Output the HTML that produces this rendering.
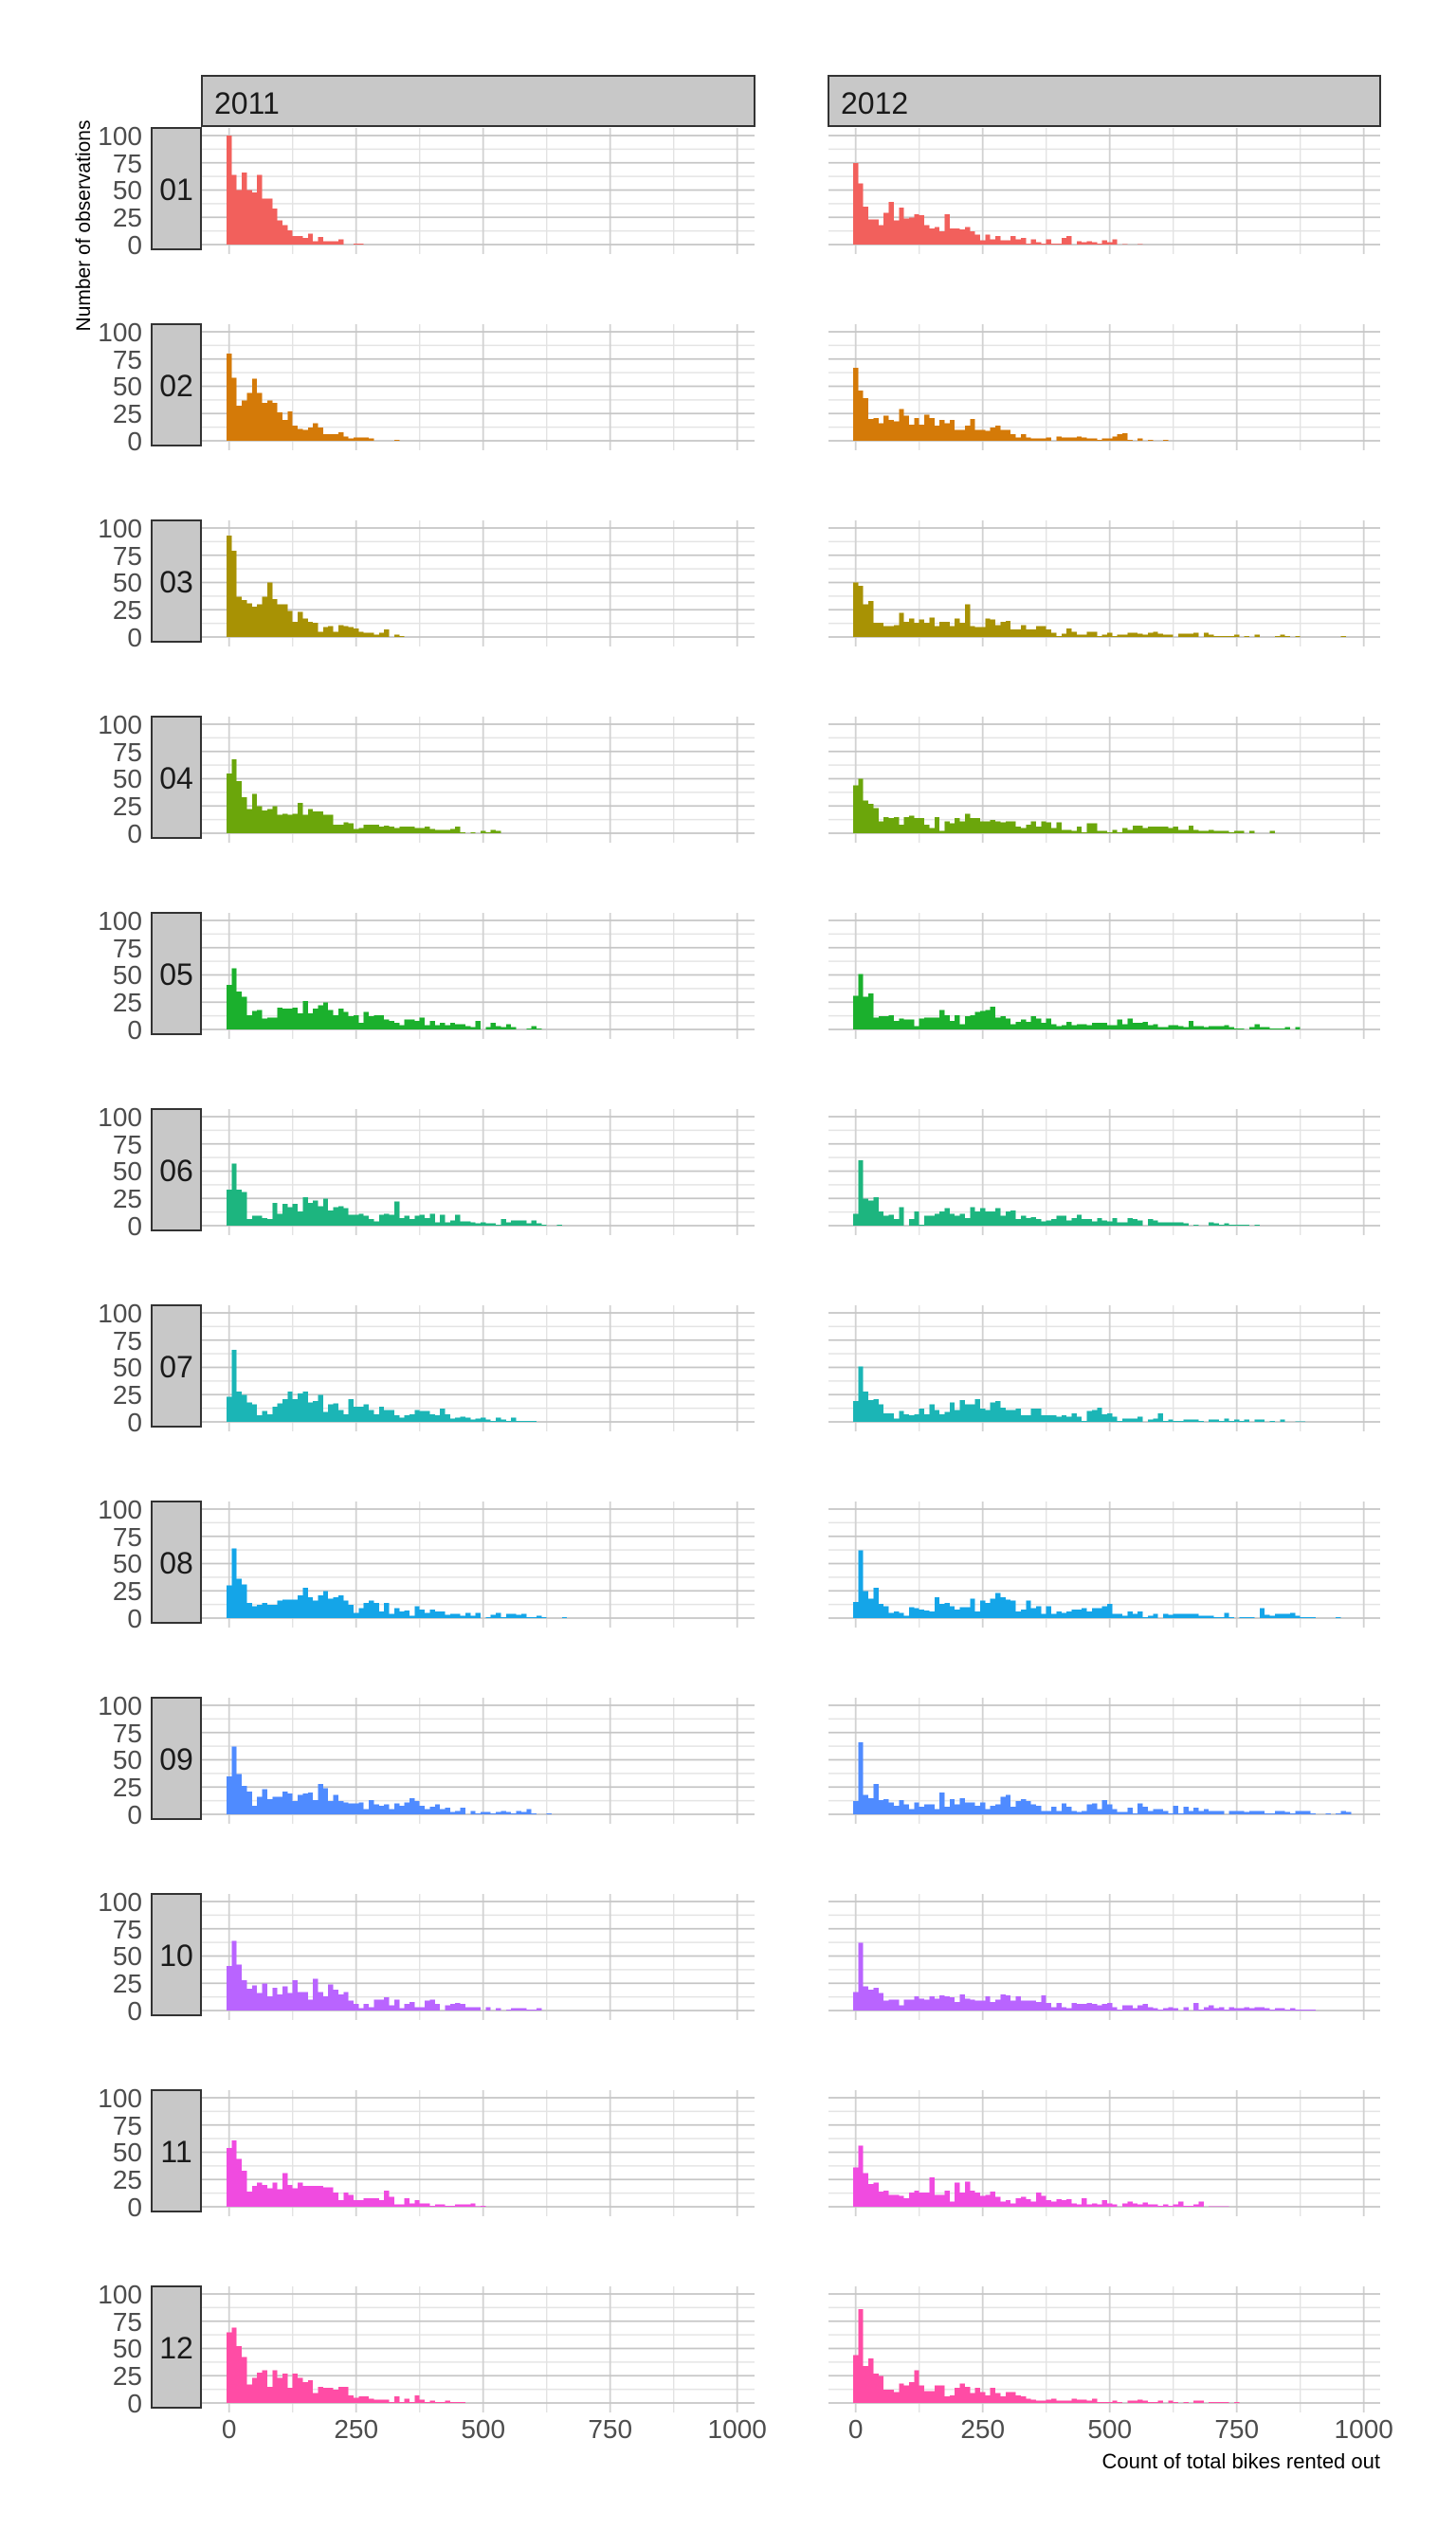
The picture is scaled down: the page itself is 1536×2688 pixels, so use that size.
<!DOCTYPE html>
<html><head><meta charset="utf-8"><style>
html,body{margin:0;padding:0;background:#fff;}
svg{display:block;}
text{font-family:"Liberation Sans",Arial,sans-serif;}
</style></head><body>
<svg id="s" width="1536" height="2688" viewBox="0 0 1536 2688" xmlns="http://www.w3.org/2000/svg">
<rect width="1536" height="2688" fill="#fff"/>
<g id="grid"></g>
<g id="bars"></g>
<g id="strips">
<rect x="213" y="80" width="583" height="53" fill="#c8c8c8" stroke="#333" stroke-width="2"/>
<text x="226" y="120" font-size="32" fill="#1a1a1a">2011</text>
<rect x="874" y="80" width="582" height="53" fill="#c8c8c8" stroke="#333" stroke-width="2"/>
<text x="887" y="120" font-size="32" fill="#1a1a1a">2012</text>
</g>
<g id="rows" font-size="28" fill="#4d4d4d">
<g transform="translate(0,0)"><rect x="160" y="135" width="52" height="128" fill="#c8c8c8" stroke="#333" stroke-width="2"/><text x="186" y="211" font-size="32" fill="#1a1a1a" text-anchor="middle">01</text><g text-anchor="end"><text x="150" y="153">100</text><text x="150" y="182">75</text><text x="150" y="210">50</text><text x="150" y="239">25</text><text x="150" y="268">0</text></g></g>
<g transform="translate(0,207)"><rect x="160" y="135" width="52" height="128" fill="#c8c8c8" stroke="#333" stroke-width="2"/><text x="186" y="211" font-size="32" fill="#1a1a1a" text-anchor="middle">02</text><g text-anchor="end"><text x="150" y="153">100</text><text x="150" y="182">75</text><text x="150" y="210">50</text><text x="150" y="239">25</text><text x="150" y="268">0</text></g></g>
<g transform="translate(0,414)"><rect x="160" y="135" width="52" height="128" fill="#c8c8c8" stroke="#333" stroke-width="2"/><text x="186" y="211" font-size="32" fill="#1a1a1a" text-anchor="middle">03</text><g text-anchor="end"><text x="150" y="153">100</text><text x="150" y="182">75</text><text x="150" y="210">50</text><text x="150" y="239">25</text><text x="150" y="268">0</text></g></g>
<g transform="translate(0,621)"><rect x="160" y="135" width="52" height="128" fill="#c8c8c8" stroke="#333" stroke-width="2"/><text x="186" y="211" font-size="32" fill="#1a1a1a" text-anchor="middle">04</text><g text-anchor="end"><text x="150" y="153">100</text><text x="150" y="182">75</text><text x="150" y="210">50</text><text x="150" y="239">25</text><text x="150" y="268">0</text></g></g>
<g transform="translate(0,828)"><rect x="160" y="135" width="52" height="128" fill="#c8c8c8" stroke="#333" stroke-width="2"/><text x="186" y="211" font-size="32" fill="#1a1a1a" text-anchor="middle">05</text><g text-anchor="end"><text x="150" y="153">100</text><text x="150" y="182">75</text><text x="150" y="210">50</text><text x="150" y="239">25</text><text x="150" y="268">0</text></g></g>
<g transform="translate(0,1035)"><rect x="160" y="135" width="52" height="128" fill="#c8c8c8" stroke="#333" stroke-width="2"/><text x="186" y="211" font-size="32" fill="#1a1a1a" text-anchor="middle">06</text><g text-anchor="end"><text x="150" y="153">100</text><text x="150" y="182">75</text><text x="150" y="210">50</text><text x="150" y="239">25</text><text x="150" y="268">0</text></g></g>
<g transform="translate(0,1242)"><rect x="160" y="135" width="52" height="128" fill="#c8c8c8" stroke="#333" stroke-width="2"/><text x="186" y="211" font-size="32" fill="#1a1a1a" text-anchor="middle">07</text><g text-anchor="end"><text x="150" y="153">100</text><text x="150" y="182">75</text><text x="150" y="210">50</text><text x="150" y="239">25</text><text x="150" y="268">0</text></g></g>
<g transform="translate(0,1449)"><rect x="160" y="135" width="52" height="128" fill="#c8c8c8" stroke="#333" stroke-width="2"/><text x="186" y="211" font-size="32" fill="#1a1a1a" text-anchor="middle">08</text><g text-anchor="end"><text x="150" y="153">100</text><text x="150" y="182">75</text><text x="150" y="210">50</text><text x="150" y="239">25</text><text x="150" y="268">0</text></g></g>
<g transform="translate(0,1656)"><rect x="160" y="135" width="52" height="128" fill="#c8c8c8" stroke="#333" stroke-width="2"/><text x="186" y="211" font-size="32" fill="#1a1a1a" text-anchor="middle">09</text><g text-anchor="end"><text x="150" y="153">100</text><text x="150" y="182">75</text><text x="150" y="210">50</text><text x="150" y="239">25</text><text x="150" y="268">0</text></g></g>
<g transform="translate(0,1863)"><rect x="160" y="135" width="52" height="128" fill="#c8c8c8" stroke="#333" stroke-width="2"/><text x="186" y="211" font-size="32" fill="#1a1a1a" text-anchor="middle">10</text><g text-anchor="end"><text x="150" y="153">100</text><text x="150" y="182">75</text><text x="150" y="210">50</text><text x="150" y="239">25</text><text x="150" y="268">0</text></g></g>
<g transform="translate(0,2070)"><rect x="160" y="135" width="52" height="128" fill="#c8c8c8" stroke="#333" stroke-width="2"/><text x="186" y="211" font-size="32" fill="#1a1a1a" text-anchor="middle">11</text><g text-anchor="end"><text x="150" y="153">100</text><text x="150" y="182">75</text><text x="150" y="210">50</text><text x="150" y="239">25</text><text x="150" y="268">0</text></g></g>
<g transform="translate(0,2277)"><rect x="160" y="135" width="52" height="128" fill="#c8c8c8" stroke="#333" stroke-width="2"/><text x="186" y="211" font-size="32" fill="#1a1a1a" text-anchor="middle">12</text><g text-anchor="end"><text x="150" y="153">100</text><text x="150" y="182">75</text><text x="150" y="210">50</text><text x="150" y="239">25</text><text x="150" y="268">0</text></g></g>
</g>
<g font-size="28" fill="#4d4d4d" text-anchor="middle">
<text x="241.7" y="2572">0</text><text x="375.7" y="2572">250</text><text x="509.7" y="2572">500</text><text x="643.7" y="2572">750</text><text x="777.7" y="2572">1000</text>
<text x="902.7" y="2572">0</text><text x="1036.7" y="2572">250</text><text x="1170.7" y="2572">500</text><text x="1304.7" y="2572">750</text><text x="1438.7" y="2572">1000</text>
</g>
<text x="1456" y="2604" font-size="22" fill="#000" text-anchor="end">Count of total bikes rented out</text>
<text transform="translate(95,238) rotate(-90)" font-size="21" fill="#000" text-anchor="middle">Number of observations</text>
</svg>
<script>
(function(){
var NS="http://www.w3.org/2000/svg";
var grid=document.getElementById("grid"),bars=document.getElementById("bars");
function el(p,t,a){var e=document.createElementNS(NS,t);for(var k in a)e.setAttribute(k,a[k]);p.appendChild(e);return e;}
var cols=["#f2605c","#d47a08","#a89204","#6ba60b","#1bb02d","#1db57f","#1bb5b6","#14a5e8","#4f8bff","#b964ff","#f04be0","#ff4ca5"];
var A=[
[100,64,50,66,50,48,64,42,42,33,22,18,13,8,8,6,10,3,7,3,3,3,5,0,0,0.7,0.7],
[80,58,32,37,44,57,44,35,37,35,26,19,27,14,11,10,12,16,12,6,6,6,8,4,2,3,3,3,2,0,0,0,0,1],
[93,79,37,34,31,28,30,37,50,35,30,30,24,14,23,17,14,13,5,9,10,5,11,10,9,8,5,4,4,2,4,7,0,2,1],
[55,68,48,33,22,36,25,21,22,25,17,18,17,18,28,17,22,20,20,17,17,8,8,10,9,4,5,8,8,8,6,7,6,5,6,6,6,5,5,6,4,3,3,3,4,6,1,0,1,0,2,1,3,2],
[41,56,35,30,13,17,18,10,11,11,20,19,19,20,15,26,15,19,22,25,18,13,19,16,12,13,6,16,12,13,13,9,8,6,4,9,9,8,11,4,8,4,6,4,6,5,5,3,2,8,0,2,6,3,2,5,2,0,0,1,3,1],
[33,57,33,31,6,9,9,7,6,21,11,20,17,20,13,26,21,23,18,25,14,17,18,16,10,10,11,9,6,4,10,11,10,22,7,9,6,9,10,7,11,3,10,3,5,10,4,4,3,2,3,2,2,1,6,3,5,5,5,2,5,2,1,0,0,1],
[23,66,28,25,18,16,6,10,7,14,17,21,28,21,26,28,18,19,25,9,16,17,11,7,21,14,14,16,11,7,14,11,11,6,4,6,7,11,10,10,7,6,12,7,3,4,5,4,2,3,4,2,1,4,2,1,4,1,1,1,1],
[30,64,36,31,14,11,12,14,12,12,16,17,17,17,21,28,19,16,21,25,18,19,21,16,12,5,9,14,16,14,6,14,4,9,6,7,2,11,8,5,8,6,6,3,4,4,2,5,2,5,0,1,3,5,1,4,4,3,4,1,1,2,1,0,0,0,1],
[35,62,37,26,21,8,16,23,14,16,16,21,19,12,18,19,20,13,28,24,12,18,12,11,10,10,11,5,13,9,8,9,5,10,8,11,15,12,8,5,7,9,5,6,2,3,6,0,3,1,2,2,1,2,3,2,1,3,2,5,1,0,0,1],
[41,64,42,28,20,23,16,25,13,21,15,22,16,28,17,17,10,29,17,13,24,19,15,17,9,6,2,6,3,10,10,12,5,10,2,6,8,3,3,9,10,6,0,5,6,7,6,3,3,3,0,3,0,2,0,1,2,2,2,1,1,2],
[54,61,44,33,14,19,22,20,17,22,16,31,20,17,22,19,19,19,19,18,18,13,6,13,11,6,6,8,8,8,6,15,9,2,2,8,3,6,3,3,1,2,2,1,1,2,2,2,3,0.5,1],
[65,69,52,42,17,23,28,30,15,30,23,27,14,27,23,19,21,9,15,14,14,12,15,15,7,5,6,6,4,3,3,3,1,6,1,4,1,7,3,1,2,1,1,2,1,1,1]
];
var B=[
[75,56,35,23,23,18,29,39,22,34,24,25,28,27,18,15,16,12,28,15,15,14,16,12,9,4,9,5,8,4,4,8,5,6,1,5,2,1,5,1,1,6,8,0,3,2,3,2,1,4,2,5,0,0.5,0,0,0.5],
[67,46,39,20,21,16,23,19,18,29,23,15,21,15,24,21,14,19,16,19,10,10,14,20,10,10,9,12,14,10,10,6,3,6,3,2,2,2,3,0,4,3,3,3,4,3,2,2,1,2,2,4,6,7,1,0,2,0,1,0,0,1],
[50,47,30,33,13,13,10,10,11,22,14,17,13,16,13,18,10,14,14,10,17,13,30,10,9,9,17,16,11,14,15,7,7,11,7,7,10,10,7,4,1,3,8,5,2,2,5,5,1,2,4,1,2,2,4,4,3,2,4,5,3,2,2,0,3,3,3,4,0,4,2,1,1,1,1,2,0,1,0,2,0,0,0,1,2,1,0,1,0,0,0,0,0,0,0,0,1],
[44,50,30,27,23,11,15,14,15,8,15,16,14,14,8,5,15,2,11,9,14,11,18,14,14,11,11,12,11,10,11,11,6,5,8,11,6,11,10,5,10,3,3,2,6,1,9,9,2,2,1,3,1,5,3,7,7,5,6,6,6,6,5,6,3,3,7,3,2,2,3,2,2,2,1,2,2,0,2,0,0,0,2],
[31,51,30,33,11,12,12,13,8,10,9,9,3,10,11,11,11,18,13,8,13,5,12,13,16,17,18,21,11,12,10,5,7,9,7,12,10,6,10,5,3,4,7,4,5,5,4,6,6,6,4,4,9,5,10,6,6,7,4,5,2,2,4,4,3,2,8,3,3,2,3,3,3,4,2,1,1,0,2,5,2,2,1,1,1,2,0,2],
[11,60,25,23,26,13,9,10,6,17,0,6,13,1,9,9,11,13,16,11,9,11,7,17,13,16,13,13,16,9,13,14,6,9,7,8,6,4,5,6,9,9,5,7,10,6,6,4,7,5,4,7,3,3,7,6,5,0,6,5,3,3,3,3,3,2,0,1,0,0,3,2,1,2,1,1,1,1,0,1],
[19,51,28,20,21,16,8,8,3,10,7,6,7,12,7,16,11,7,9,18,11,20,16,16,21,12,11,18,19,13,11,11,12,6,6,12,12,6,6,6,5,6,5,8,5,1,10,11,13,7,8,5,1,3,3,3,5,0,2,3,8,1,2,1,1,2,2,2,1,0,2,2,1,3,1,2,1,2,0,2,2,0,1,0,2,0,0,0.5,0.5],
[15,62,25,18,28,13,11,5,6,5,2,10,9,8,7,6,19,13,14,11,8,10,10,18,6,16,14,18,23,19,17,16,6,8,16,9,11,4,11,4,6,5,6,8,8,9,6,9,9,11,13,4,4,2,6,4,6,1,2,4,0,4,3,4,4,4,4,4,2,2,2,1,1,5,1,0,1,1,1,0,9,3,2,4,4,4,5,2,1,1,1,0,0,0,0,1],
[12,66,18,15,28,13,14,11,8,13,9,5,11,7,9,9,5,20,7,14,9,15,11,11,8,11,5,8,9,16,18,7,12,14,12,9,8,3,3,7,3,10,7,3,2,3,9,10,5,13,9,5,2,2,6,1,10,7,3,5,5,3,1,8,1,7,3,6,3,5,3,3,3,0,3,3,3,2,3,3,3,1,1,3,3,2,1,3,3,3,1,0,0,1,0,1,3,2],
[17,62,22,19,21,16,9,10,10,5,10,10,13,11,10,13,11,14,13,12,8,15,11,10,9,9,13,8,10,15,14,9,13,9,9,9,8,14,7,3,7,3,2,7,6,6,7,6,5,6,7,3,1,5,5,2,5,6,3,2,1,2,3,2,0,3,0,7,1,3,5,2,3,1,3,2,2,3,2,3,3,2,1,2,2,1,2,1,1,1,1],
[36,56,31,21,22,14,15,11,11,10,8,13,15,13,13,27,11,11,15,5,22,13,23,15,13,10,11,14,9,5,6,3,8,9,7,5,13,10,6,5,7,6,7,3,2,8,2,3,2,6,3,2,0,3,5,3,2,4,2,2,1,2,1,2,5,1,1,2,5,0,0.5,0.5,0.5,0.5],
[44,86,34,41,27,25,12,12,10,18,16,19,30,16,11,11,16,16,6,7,14,18,15,9,14,10,7,14,9,6,10,10,7,6,4,3,2,2,3,4,2,2,2,4,3,3,2,4,1,1,1,2,1,0,2,2,3,2,1,1,2,0,2,1,0,1,0,2,2,0,1,1,1,1,0,1]
];
var panels=[{l:213,r:796,x0:241.7,d:A},{l:874,r:1456,x0:902.7,d:B}];
var k=0.536;
for(var i=0;i<12;i++){
 var T=135+207*i, y0=T+123;
 panels.forEach(function(p){
  // horizontal minor
  for(var m=0;m<8;m++){var v=12.5+25*m; if(v>112)break; var y=y0-v*1.15; if(v%25!==0) el(grid,"line",{x1:p.l,x2:p.r,y1:y,y2:y,stroke:"#e4e4e4","stroke-width":1.6});}
  // vertical
  for(var vv=0;vv<=1000;vv+=125){var x=p.x0+vv*k; var maj=(vv%250===0); el(grid,"line",{x1:x,x2:x,y1:T,y2:T+133,stroke:maj?"#d2d2d2":"#e3e3e3","stroke-width":maj?1.8:1.4});}
  for(var v2=0;v2<=100;v2+=25){var y2=y0-v2*1.15; el(grid,"line",{x1:p.l,x2:p.r,y1:y2,y2:y2,stroke:"#c6c6c6","stroke-width":1.8});}
  var d=p.d[i], path="";
  for(var j=0;j<d.length;j++){var h=d[j]*1.15; if(h<=0)continue; var xb=p.x0+(10*j-5)*k;
   path+="M"+xb.toFixed(2)+" "+y0+"h"+(10*k).toFixed(3)+"v"+(-h).toFixed(2)+"h"+(-10*k).toFixed(3)+"z";}
  el(bars,"path",{d:path,fill:cols[i],"shape-rendering":"crispEdges"});
 });
}
})();
</script>
</body></html>
